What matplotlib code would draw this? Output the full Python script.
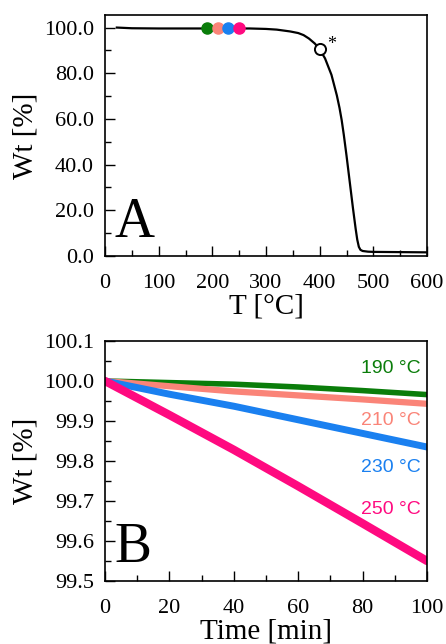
import matplotlib
matplotlib.use("Agg")
import matplotlib.pyplot as plt
from matplotlib.ticker import MultipleLocator, FormatStrFormatter

# panel A: TGA curve
temp = [22, 50, 100, 150, 200, 250, 270, 300, 320, 345, 360, 370, 380, 391,
        400, 410, 422, 432, 437, 441, 445, 450, 456, 462, 467, 470, 473, 476,
        480, 490, 500, 550, 600]
wt = [100.0, 99.7, 99.6, 99.6, 99.6, 99.6, 99.6, 99.4, 99.1, 98.3, 97.6, 96.7,
      95.2, 93.0, 90.5, 86.5, 79.3, 70.3, 64.8, 59.5, 53.0, 44.0, 32.5, 21.0,
      12.0, 7.2, 4.0, 2.7, 2.2, 1.9, 1.8, 1.7, 1.6]
iso_temps = [190, 210, 230, 250]
iso_marker_wt = 99.6
t5 = (400, 90.5)

# panel B: isothermal runs
time = [0, 20, 40, 60, 80, 100]
wt_190 = [100.0, 99.996, 99.992, 99.985, 99.976, 99.966]
wt_210 = [100.0, 99.987, 99.974, 99.964, 99.954, 99.943]
wt_230 = [100.0, 99.967, 99.937, 99.903, 99.869, 99.835]
wt_250 = [100.0, 99.915, 99.828, 99.737, 99.644, 99.550]
labels = ["190 °C", "210 °C", "230 °C", "250 °C"]
label_y = [100.032, 99.902, 99.784, 99.679]
colors = ["#0a7d0a", "#fa8478", "#1a80f0", "#ff0a80"]
widths = [4.0, 4.5, 5.0, 6.0]

serif = "Liberation Serif"
sans = "Liberation Sans"
plt.rcParams["font.family"] = serif

fig = plt.figure(figsize=(4.46, 6.44), dpi=100)
axA = fig.add_axes([105 / 446, 1 - 256 / 644, 322 / 446, 241 / 644])
axB = fig.add_axes([105 / 446, 1 - 581 / 644, 322 / 446, 240 / 644])

for ax in (axA, axB):
    ax.tick_params(which="both", direction="in", top=False, right=False,
                   labelsize=16, width=1.0)
    ax.tick_params(which="major", length=7)
    ax.tick_params(axis="x", which="major", pad=13)
    ax.tick_params(axis="y", which="major", pad=8)
    ax.tick_params(which="minor", length=4)
    for s in ax.spines.values():
        s.set_linewidth(1.2)

# A
axA.plot(temp, wt, color="black", lw=1.6, zorder=2)
for tt, c in zip(iso_temps, colors):
    axA.plot(tt, iso_marker_wt, "o", ms=8, color=c, mec=c, zorder=3)
axA.plot(*t5, "o", ms=8, mfc="white", mec="black", mew=1.4, zorder=4)
axA.text(t5[0] + 13, t5[1] + 2, "*", fontsize=13, ha="left", va="center")
axA.set_xlim(0, 600)
axA.set_ylim(0, 105.5)
axA.xaxis.set_major_locator(MultipleLocator(100))
axA.xaxis.set_minor_locator(MultipleLocator(50))
axA.yaxis.set_major_locator(MultipleLocator(20))
axA.yaxis.set_minor_locator(MultipleLocator(10))
axA.yaxis.set_major_formatter(FormatStrFormatter("%.1f"))
axA.set_xlabel("T [°C]", fontsize=21, labelpad=0)
axA.set_ylabel("Wt [%]", fontsize=21, labelpad=4)
axA.text(0.03, 0.03, "A", transform=axA.transAxes, fontsize=40,
         ha="left", va="bottom")

# B
series = [wt_190, wt_210, wt_230, wt_250]
for ys, c, w in zip(series, colors, widths):
    axB.plot(time, ys, color=c, lw=w, solid_capstyle="round")
for lab, ly, c in zip(labels, label_y, colors):
    axB.text(98, ly, lab, color=c, fontsize=14, family=sans,
             ha="right", va="center")
axB.set_xlim(0, 100)
axB.set_ylim(99.5, 100.1)
axB.xaxis.set_major_locator(MultipleLocator(20))
axB.xaxis.set_minor_locator(MultipleLocator(10))
axB.yaxis.set_major_locator(MultipleLocator(0.1))
axB.yaxis.set_minor_locator(MultipleLocator(0.05))
axB.yaxis.set_major_formatter(FormatStrFormatter("%.1f"))
axB.set_xlabel("Time [min]", fontsize=21, labelpad=0)
axB.set_ylabel("Wt [%]", fontsize=21, labelpad=4)
axB.text(0.03, 0.03, "B", transform=axB.transAxes, fontsize=40,
         ha="left", va="bottom")

fig.savefig("out.png", dpi=100)
